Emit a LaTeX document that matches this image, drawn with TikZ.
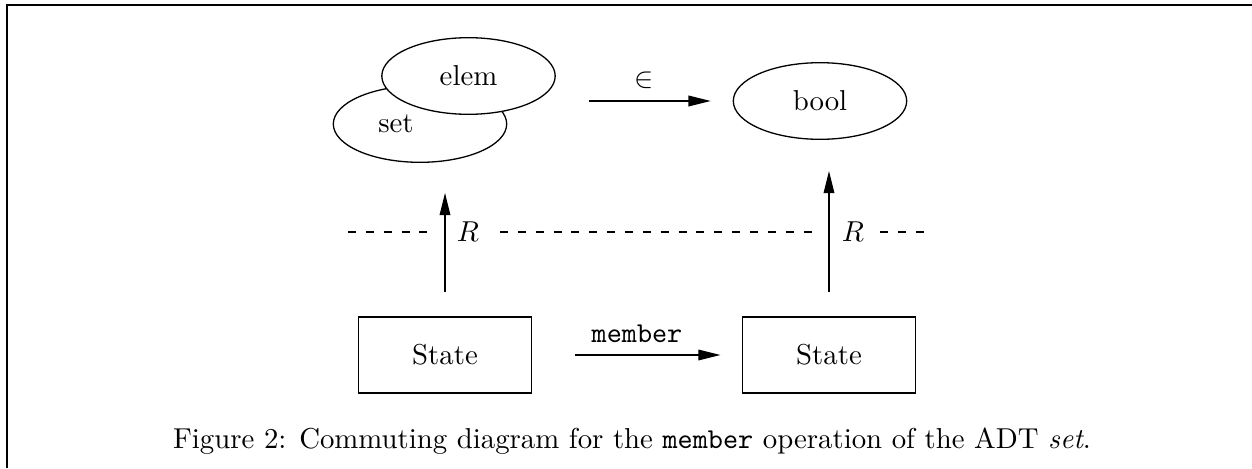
\documentclass[tikz,border=0pt]{standalone}
\usetikzlibrary{arrows.meta,shapes.geometric}
\begin{document}
\begin{tikzpicture}[x=0.34722pt,y=-0.34722pt,
  ell/.style={draw,ellipse,line width=0.45pt,inner sep=0pt,minimum width=60.2pt,minimum height=26.6pt,fill=white},
  stbox/.style={draw,rectangle,line width=0.45pt,inner sep=0pt,minimum width=60pt,minimum height=26.4pt},
  arr/.style={-{Triangle[length=7.7pt,width=3.7pt]},line width=0.45pt},
  dsh/.style={line width=0.45pt,dash pattern=on 2.8pt off 3.4pt},
  lbl/.style={inner sep=0pt}]
\useasboundingbox (0,0) rectangle (1252,468);
% frame
\coordinate (fbl) at (7,468);
\coordinate (ftl) at (7,5);
\coordinate (ftr) at (1252,5);
\draw[line width=0.7pt] (fbl) -- (ftl) -- (ftr);
% ellipses
\node[ell] (set) at (420,124) {};
\node[lbl] (settxt) at (396,124) {set};
\node[ell] (elem) at (468.5,76) {elem};
\node[ell] (bool) at (820,101) {bool};
% states
\node[stbox] (s1) at (445,355) {State};
\node[stbox] (s2) at (829,355) {State};
% arrows
\draw[arr,shorten <=11.46pt,shorten >=7.64pt] (elem.east |- bool.west) -- node[lbl,above=4.1pt]{$\in$} (bool.west);
\draw[arr,shorten <=14.76pt,shorten >=7.47pt] (s1.east) -- node[lbl,above=4.2pt]{\texttt{member}} (s2.west);
\draw[arr,shorten <=8.33pt,shorten >=10.4pt] (s1.north) -- (s1.north |- set.south);
\draw[arr,shorten <=8.33pt,shorten >=10.8pt] (s2.north) -- (s2.north |- bool.south);
% R labels
\node[lbl] (r1) at (468,232) {$R$};
\node[lbl] (r2) at (853,232) {$R$};
% dashed line
\coordinate (d1a) at (348,232);
\coordinate (d1b) at (434,232);
\coordinate (d2a) at (500,232);
\coordinate (d2b) at (814,232);
\coordinate (d3a) at (880,232);
\coordinate (d3b) at (927,232);
\draw[dsh] (d1a) -- (d1b);
\draw[dsh] (d2a) -- (d2b);
\draw[dsh] (d3a) -- (d3b);
% caption
\node[lbl] (cap) at (632,441) {Figure 2: Commuting diagram for the \texttt{member} operation of the ADT \textit{set}.};
\end{tikzpicture}
\end{document}
